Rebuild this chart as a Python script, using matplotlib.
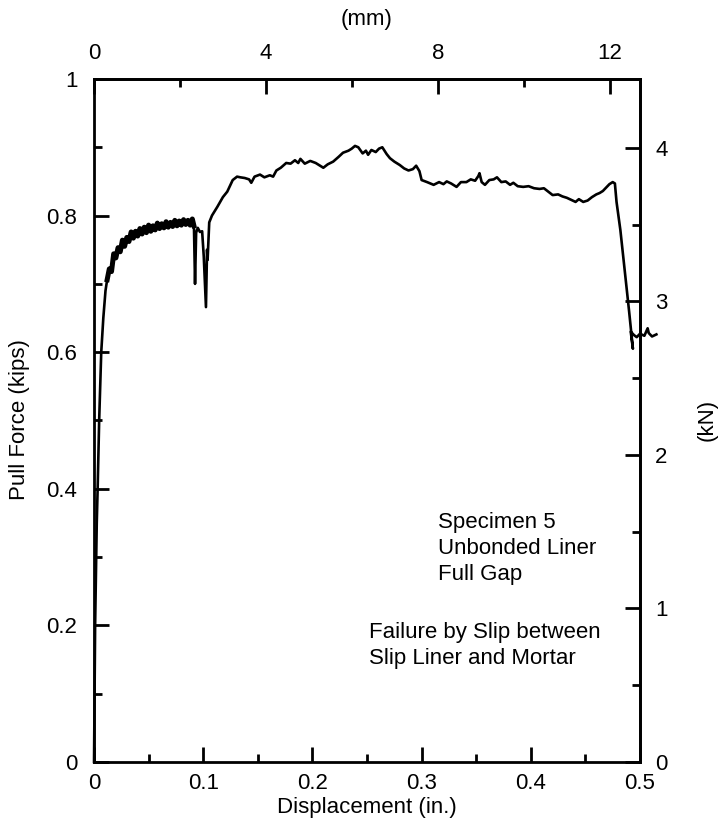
import matplotlib
matplotlib.use("Agg")
import matplotlib.pyplot as plt
from matplotlib.ticker import MultipleLocator, FuncFormatter

plt.rcParams['font.family'] = ['Liberation Sans', 'DejaVu Sans']

# Unit conversions for the secondary axes.
IN_TO_MM = 25.4
KIPS_TO_KN = 4.448

# Displacement (in.) and pull force (kips).
displacement = [
    0.0, 0.0005, 0.001, 0.0018, 0.0025, 0.0033, 0.0047, 0.0066, 0.0085, 0.0105,
    0.012, 0.014, 0.016, 0.018, 0.020, 0.022, 0.024, 0.026, 0.028, 0.030,
    0.032, 0.034, 0.036, 0.038, 0.040, 0.042, 0.044, 0.046, 0.048, 0.050,
    0.052, 0.054, 0.056, 0.058, 0.060, 0.062, 0.064, 0.066, 0.068, 0.070,
    0.072, 0.074, 0.076, 0.078, 0.080, 0.082, 0.084, 0.086, 0.088, 0.090,
    0.0915, 0.0925, 0.0935, 0.095, 0.097, 0.099, 0.1005, 0.1025, 0.1035, 0.104,
    0.1055, 0.108, 0.113, 0.118, 0.122, 0.127, 0.131, 0.134, 0.138, 0.142,
    0.144, 0.147, 0.152, 0.156, 0.161, 0.164, 0.167, 0.171, 0.176, 0.180,
    0.184, 0.187, 0.189, 0.193, 0.198, 0.203, 0.207, 0.210, 0.214, 0.219,
    0.224, 0.228, 0.233, 0.236, 0.239, 0.242, 0.246, 0.249, 0.251, 0.254,
    0.258, 0.261, 0.264, 0.268, 0.271, 0.275, 0.280, 0.284, 0.288, 0.292,
    0.295, 0.298, 0.300, 0.305, 0.311, 0.316, 0.320, 0.323, 0.327, 0.332,
    0.336, 0.341, 0.345, 0.349, 0.352, 0.353, 0.355, 0.358, 0.362, 0.366,
    0.369, 0.373, 0.377, 0.381, 0.384, 0.388, 0.393, 0.398, 0.403, 0.408,
    0.412, 0.416, 0.420, 0.425, 0.429, 0.433, 0.437, 0.441, 0.444, 0.448,
    0.452, 0.456, 0.460, 0.463, 0.466, 0.469, 0.472, 0.475, 0.477, 0.4785,
    0.482, 0.486, 0.490, 0.4925, 0.4935, 0.4915, 0.4945, 0.497, 0.500, 0.504,
    0.507, 0.508, 0.511, 0.515,
]
pull_force = [
    0.0, 0.10, 0.20, 0.28, 0.35, 0.40, 0.50, 0.60, 0.65, 0.69,
    0.706, 0.722, 0.718, 0.744, 0.738, 0.753, 0.747, 0.764, 0.755, 0.768,
    0.762, 0.776, 0.767, 0.777, 0.770, 0.781, 0.773, 0.783, 0.775, 0.786,
    0.777, 0.785, 0.779, 0.789, 0.781, 0.788, 0.782, 0.791, 0.783, 0.790,
    0.784, 0.793, 0.785, 0.792, 0.786, 0.794, 0.787, 0.793, 0.786, 0.795,
    0.785, 0.700, 0.775, 0.782, 0.776, 0.777, 0.740, 0.666, 0.750, 0.735,
    0.790, 0.800, 0.813, 0.827, 0.835, 0.852, 0.857, 0.856, 0.855, 0.853,
    0.848, 0.857, 0.860, 0.856, 0.859, 0.857, 0.866, 0.870, 0.877, 0.876,
    0.881, 0.877, 0.883, 0.876, 0.880, 0.877, 0.873, 0.870, 0.875, 0.879,
    0.886, 0.892, 0.895, 0.898, 0.902, 0.900, 0.891, 0.895, 0.889, 0.896,
    0.893, 0.898, 0.900, 0.890, 0.884, 0.879, 0.874, 0.869, 0.866, 0.868,
    0.873, 0.865, 0.852, 0.849, 0.845, 0.849, 0.846, 0.850, 0.847, 0.842,
    0.849, 0.849, 0.853, 0.851, 0.858, 0.862, 0.849, 0.845, 0.852, 0.853,
    0.856, 0.849, 0.850, 0.845, 0.848, 0.843, 0.842, 0.843, 0.840, 0.839,
    0.840, 0.835, 0.830, 0.831, 0.828, 0.826, 0.823, 0.820, 0.824, 0.820,
    0.822, 0.827, 0.831, 0.833, 0.836, 0.841, 0.846, 0.849, 0.847, 0.820,
    0.779, 0.720, 0.660, 0.620, 0.605, 0.630, 0.625, 0.622, 0.627, 0.624,
    0.635, 0.628, 0.623, 0.626,
]

# Index range of the noisy hardening plateau before the first slips.
NOISY_START = 10
NOISY_END = 51

NOTE_LINES = ["Specimen 5", "Unbonded Liner", "Full Gap"]
FAILURE_LINES = ["Failure by Slip between", "Slip Liner and Mortar"]

FONT_SIZE = 16


def style_ticks(axis_obj):
    axis_obj.tick_params(which='major', direction='in', length=11, width=2,
                         labelsize=FONT_SIZE)
    axis_obj.tick_params(which='minor', direction='in', length=6, width=2)


def main():
    fig = plt.figure(figsize=(7.2, 8.26), dpi=100)
    ax = fig.add_axes([0.1306, 0.0775, 0.7583, 0.8269])

    # Load-displacement curve, allowed to run past the right border.
    ax.plot(displacement, pull_force, color='black', linewidth=1.9, clip_on=False)
    # The plateau was recorded with a lot of scatter, so it reads as a thick band.
    ax.plot(displacement[NOISY_START:NOISY_END], pull_force[NOISY_START:NOISY_END],
            color='black', linewidth=3.6)

    ax.set_xlim(0, 0.5)
    ax.set_ylim(0, 1)
    ax.xaxis.set_major_locator(MultipleLocator(0.1))
    ax.xaxis.set_minor_locator(MultipleLocator(0.05))
    ax.yaxis.set_major_locator(MultipleLocator(0.2))
    ax.yaxis.set_minor_locator(MultipleLocator(0.1))
    fmt = FuncFormatter(lambda v, pos: "%g" % round(v, 3))
    ax.xaxis.set_major_formatter(fmt)
    ax.yaxis.set_major_formatter(fmt)
    for s in ax.spines.values():
        s.set_linewidth(2)
    style_ticks(ax)
    ax.tick_params(axis='x', pad=8)
    ax.tick_params(axis='y', pad=12)

    # Metric axes on top and right.
    top = ax.secondary_xaxis('top', functions=(lambda x: x * IN_TO_MM,
                                               lambda x: x / IN_TO_MM))
    top.set_xticks([0, 4, 8, 12])
    top.xaxis.set_minor_locator(MultipleLocator(2))
    top.spines['top'].set_linewidth(2)
    style_ticks(top)
    top.tick_params(axis='x', pad=11)

    right = ax.secondary_yaxis('right', functions=(lambda y: y * KIPS_TO_KN,
                                                   lambda y: y / KIPS_TO_KN))
    right.set_yticks([0, 1, 2, 3, 4])
    right.yaxis.set_minor_locator(MultipleLocator(0.5))
    right.spines['right'].set_linewidth(2)
    style_ticks(right)
    right.tick_params(axis='y', pad=11)

    # Axis titles.
    fig.text(367 / 720, 1 - 808 / 826, "Displacement (in.)", ha='center', va='center',
             fontsize=FONT_SIZE)
    fig.text(367 / 720, 1 - 20 / 826, "(mm)", ha='center', va='center', fontsize=FONT_SIZE)
    fig.text(20 / 720, 1 - 420 / 826, "Pull Force (kips)", ha='center', va='center',
             rotation=90, fontsize=FONT_SIZE)
    fig.text(707 / 720, 1 - 420 / 826, "(kN)", ha='center', va='center',
             rotation=90, fontsize=FONT_SIZE)

    # Specimen notes.
    for i, line in enumerate(NOTE_LINES):
        ax.text(0.315, 0.351 - i * 0.0385, line, ha='left', va='center', fontsize=FONT_SIZE)
    for i, line in enumerate(FAILURE_LINES):
        ax.text(0.252, 0.190 - i * 0.0385, line, ha='left', va='center', fontsize=FONT_SIZE)

    fig.savefig("out.png", dpi=100)


if __name__ == "__main__":
    main()
